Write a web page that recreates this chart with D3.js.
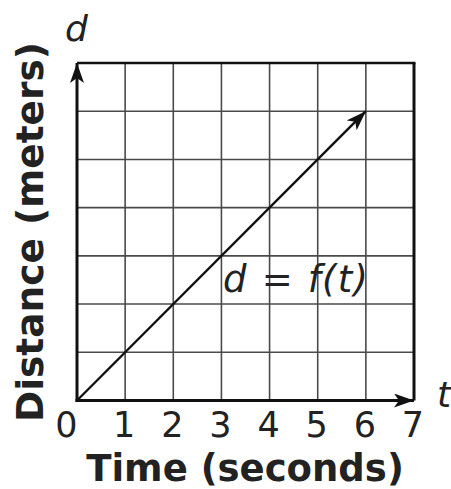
<!DOCTYPE html>
<html>
<head>
<meta charset="utf-8">
<script src="https://cdn.jsdelivr.net/npm/d3@7"></script>
<style>
  body { margin: 0; background: #fff; }
  svg { display: block; font-family: 'DejaVu Sans', Verdana, sans-serif; }
</style>
</head>
<body>
<div id="chart"></div>
<script>
const width = 451;
const height = 489;

// data
const tTicks = [0, 1, 2, 3, 4, 5, 6, 7];
const dTicks = [0, 1, 2, 3, 4, 5, 6, 7];
const tickLabels = ['0', '1', '2', '3', '4', '5', '6', '7'];
const lineT = [0, 6];
const lineD = [0, 6];
const xTitle = 'Time (seconds)';
const yTitle = 'Distance (meters)';
const xVar = 't';
const yVar = 'd';
const fnLabel = ['d', ' = ', 'f', '(', 't', ')'];

const plotLeft = 77;
const plotRight = 414;
const plotTop = 63;
const plotBottom = 400.5;

const x = d3.scaleLinear().domain([0, 7]).range([plotLeft, plotRight]);
const y = d3.scaleLinear().domain([0, 7]).range([plotBottom, plotTop]);

const svg = d3.create('svg')
  .attr('width', width)
  .attr('height', height)
  .attr('viewBox', [0, 0, width, height]);

const defs = svg.append('defs');
defs.append('marker')
  .attr('id', 'arrow')
  .attr('viewBox', '0 0 20 14')
  .attr('refX', 20)
  .attr('refY', 7)
  .attr('markerWidth', 20)
  .attr('markerHeight', 14)
  .attr('markerUnits', 'userSpaceOnUse')
  .attr('orient', 'auto')
  .append('path')
  .attr('d', 'M0,0 L20,7 L0,14 L5,7 Z')
  .attr('fill', '#111');

// grid
const grid = svg.append('g')
  .attr('stroke', '#4a4a4a')
  .attr('stroke-width', 1.6);

grid.selectAll('line.v')
  .data(tTicks.slice(1, -1))
  .join('line')
  .attr('class', 'v')
  .attr('x1', (d)=>x(d))
  .attr('x2', (d)=>x(d))
  .attr('y1', y(7))
  .attr('y2', y(0));

grid.selectAll('line.h')
  .data(dTicks.slice(1, -1))
  .join('line')
  .attr('class', 'h')
  .attr('x1', x(0))
  .attr('x2', x(7))
  .attr('y1', (d)=>y(d))
  .attr('y2', (d)=>y(d));

// border top + right
svg.append('line')
  .attr('x1', x(0)).attr('x2', x(7) + 1.5)
  .attr('y1', y(7)).attr('y2', y(7))
  .attr('stroke', '#111').attr('stroke-width', 2.4);
svg.append('line')
  .attr('x1', x(7)).attr('x2', x(7))
  .attr('y1', y(7)).attr('y2', y(0))
  .attr('stroke', '#111').attr('stroke-width', 3);

// axes with arrows
svg.append('line')
  .attr('x1', x(0) - 1.5).attr('x2', x(7))
  .attr('y1', y(0)).attr('y2', y(0))
  .attr('stroke', '#111').attr('stroke-width', 3)
  .attr('marker-end', 'url(#arrow)');
svg.append('line')
  .attr('x1', x(0)).attr('x2', x(0))
  .attr('y1', y(0) + 1.5).attr('y2', y(7))
  .attr('stroke', '#111').attr('stroke-width', 3)
  .attr('marker-end', 'url(#arrow)');

// the function line
svg.append('line')
  .attr('x1', x(lineT[0])).attr('y1', y(lineD[0]))
  .attr('x2', x(lineT[1])).attr('y2', y(lineD[1]))
  .attr('stroke', '#111').attr('stroke-width', 2.4)
  .attr('marker-end', 'url(#arrow)');

// tick labels
svg.append('g')
  .attr('font-size', 35)
  .attr('fill', '#222')
  .attr('text-anchor', 'middle')
  .selectAll('text')
  .data(tTicks)
  .join('text')
  .attr('x', (d)=>x(d) + (d === 0 ? -10.5 : -1))
  .attr('y', 437)
  .text((d, i)=>tickLabels[i]);

// axis titles
svg.append('text')
  .attr('x', 245)
  .attr('y', 481)
  .attr('text-anchor', 'middle')
  .attr('font-size', 37)
  .attr('font-weight', 'bold')
  .attr('fill', '#222')
  .text(xTitle);

svg.append('text')
  .attr('transform', 'translate(43,232) rotate(-90)')
  .attr('text-anchor', 'middle')
  .attr('font-size', 37.5)
  .attr('font-weight', 'bold')
  .attr('fill', '#222')
  .text(yTitle);

// variable names
svg.append('text')
  .attr('x', 65)
  .attr('y', 41)
  .attr('font-size', 36)
  .attr('font-style', 'italic')
  .attr('fill', '#222')
  .text(yVar);

svg.append('text')
  .attr('x', 437)
  .attr('y', 407)
  .attr('font-size', 36)
  .attr('font-style', 'italic')
  .attr('fill', '#222')
  .text(xVar);

svg.append('text')
  .attr('x', 223)
  .attr('y', 292)
  .attr('font-size', 37)
  .attr('font-style', 'italic')
  .attr('letter-spacing', 1.2)
  .attr('word-spacing', 1)
  .attr('fill', '#222')
  .attr('xml:space', 'preserve')
  .text(fnLabel.join(''));

document.getElementById('chart').appendChild(svg.node());
</script>
</body>
</html>
